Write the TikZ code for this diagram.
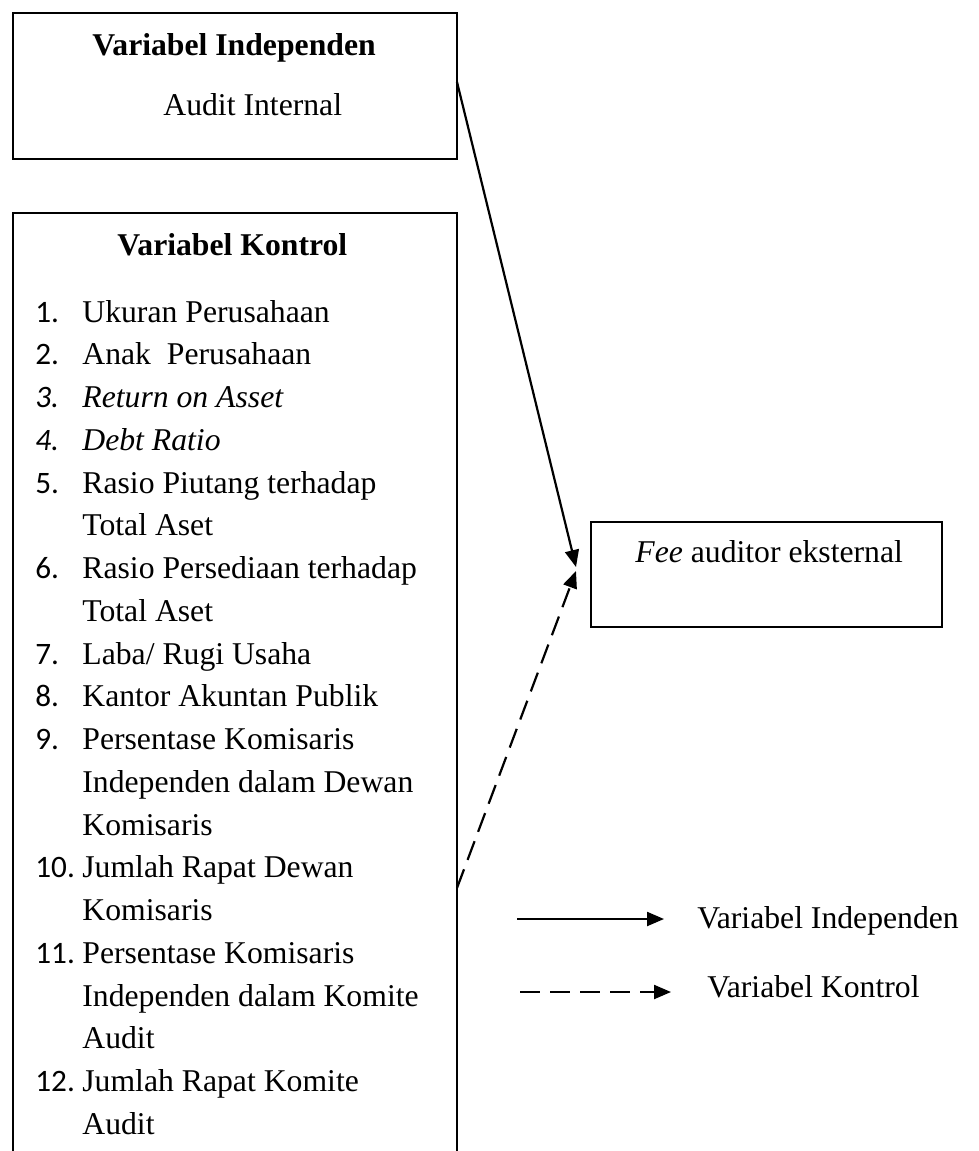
\documentclass[tikz,border=0pt]{standalone}
\usepackage{fontspec}
\setmainfont{Liberation Serif}
\newfontfamily\numfont{Carlito}
\usetikzlibrary{arrows.meta}
\begin{document}
\begin{tikzpicture}[x=0.5pt,y=-0.5pt,
  box/.style={draw,line width=1pt,inner sep=0pt,rectangle},
  txt/.style={anchor=base west,inner sep=0pt,font=\fontsize{15.85}{19}\selectfont},
  num/.style={anchor=base west,inner sep=0pt,font=\fontsize{15.6}{19}\numfont},
  conn/.style={line width=1.1pt,-{Triangle[length=8.5pt,width=7pt]}},
  dconn/.style={conn,dash pattern=on 10pt off 5pt}]
\useasboundingbox (0,0) rectangle (979,1151);
% boxes
\node[box,minimum width=222pt,minimum height=73pt] (indep) at (235,86) {};
\node[box,minimum width=222pt,minimum height=476pt] (kontrol) at (235,689) {};
\node[box,minimum width=175.5pt,minimum height=52.5pt] (fee) at (766.5,574.5) {};
% texts in top box
\node[txt,font=\fontsize{15.85}{19}\selectfont\bfseries] (t1) at (92,55) {Variabel Independen};
\node[txt] (t2) at (163,115) {Audit Internal};
% control box
\node[txt,font=\fontsize{15.85}{19}\selectfont\bfseries] (t3) at (117,255) {Variabel Kontrol};
\def\ls{42.76}
\foreach \i/\n/\t in {0/1./Ukuran Perusahaan,1/2./Anak\ \ Perusahaan,
  4/5./Rasio Piutang terhadap,5//Total Aset,6/6./Rasio Persediaan terhadap,7//Total Aset,
  8/7./Laba\slash\ Rugi Usaha,9/8./Kantor Akuntan Publik,10/9./Persentase Komisaris,
  11//Independen dalam Dewan,12//Komisaris,13/10./Jumlah Rapat Dewan,14//Komisaris,
  15/11./Persentase Komisaris,16//Independen dalam Komite,17//Audit,18/12./Jumlah Rapat Komite,19//Audit}{
  \node[num] (n\i) at (35,322+\i*\ls) {\n};
  \node[txt] (l\i) at (82,322+\i*\ls) {\t};
}
\node[num,font=\fontsize{15.6}{19}\numfont\itshape] (n2) at (35,322+2*\ls) {3.};
\node[txt,font=\fontsize{15.85}{19}\selectfont\itshape] (l2) at (82,322+2*\ls) {Return on Asset};
\node[num,font=\fontsize{15.6}{19}\numfont\itshape] (n3) at (35,322+3*\ls) {4.};
\node[txt,font=\fontsize{15.85}{19}\selectfont\itshape] (l3) at (82,322+3*\ls) {Debt Ratio};
% fee box text
\node[txt] (t4) at (635,562) {\textit{Fee} auditor eksternal};
% connectors
\coordinate (s1) at (457,82);
\coordinate (e1) at (576,567);
\coordinate (s2) at (457,888);
\coordinate (e2) at (576,571);
\draw[conn] (s1) -- (e1);
\draw[dconn] (s2) -- (e2);
% legend
\coordinate (la) at (517,919);
\coordinate (lb) at (664,919);
\coordinate (lc) at (520,992);
\coordinate (ld) at (671,992);
\draw[conn] (la) -- (lb);
\draw[dconn] (lc) -- (ld);
\node[txt] (lg1) at (697,928) {Variabel Independen};
\node[txt] (lg2) at (707,997) {Variabel Kontrol};
\end{tikzpicture}
\end{document}
